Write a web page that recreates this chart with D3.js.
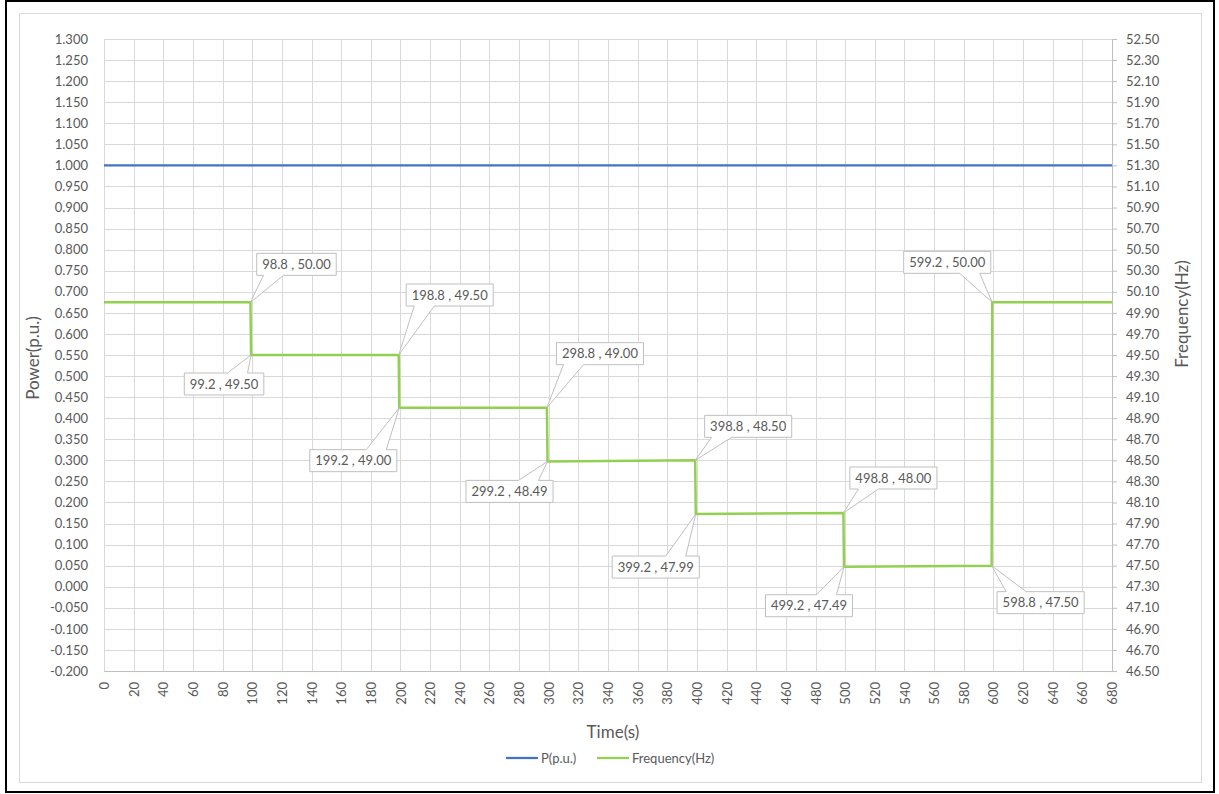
<!DOCTYPE html>
<html>
<head>
<meta charset="utf-8">
<script src="https://cdn.jsdelivr.net/npm/d3@7"></script>
<style>
  html, body { margin: 0; padding: 0; background: #fff; }
  svg { display: block; font-family: Lato, "Open Sans", "Liberation Sans", sans-serif; }
</style>
</head>
<body>
<svg id="chart" width="1219" height="794"></svg>
<script>
// ---------------- DATA ----------------
const timeTicks = d3.range(0, 681, 20);              // 0,20,...,680
const powerTickLabels = ["-0.200","-0.150","-0.100","-0.050","0.000","0.050","0.100","0.150","0.200","0.250","0.300","0.350","0.400","0.450","0.500","0.550","0.600","0.650","0.700","0.750","0.800","0.850","0.900","0.950","1.000","1.050","1.100","1.150","1.200","1.250","1.300"];
const freqTickLabels = ["46.50","46.70","46.90","47.10","47.30","47.50","47.70","47.90","48.10","48.30","48.50","48.70","48.90","49.10","49.30","49.50","49.70","49.90","50.10","50.30","50.50","50.70","50.90","51.10","51.30","51.50","51.70","51.90","52.10","52.30","52.50"];

const powerTime  = [0, 680];
const powerValue = [1.000, 1.000];

const freqTime  = [0,     98.8,  99.2,  198.8, 199.2, 298.8, 299.2, 398.8, 399.2, 498.8, 499.2, 598.8, 599.2, 680];
const freqValue = [50.00, 50.00, 49.50, 49.50, 49.00, 49.00, 48.49, 48.50, 47.99, 48.00, 47.49, 47.50, 50.00, 50.00];

// labelled points (time, frequency)
const calloutTime  = [98.8, 99.2, 198.8, 199.2, 298.8, 299.2, 398.8, 399.2, 498.8, 499.2, 599.2, 598.8];
const calloutFreq  = [50.00, 49.50, 49.50, 49.00, 49.00, 48.49, 48.50, 47.99, 48.00, 47.49, 50.00, 47.50];
// label box offsets (layout only)
const calloutDx = [46, -27, 51, -46, 53, -38, 53, -40, 50, -35, -45, 49];
const calloutDy = [-38, 29, -60, 53, -54, 30, -34, 53, -35, 39, -40, 37];

const seriesNames = ["P(p.u.)", "Frequency(Hz)"];
const seriesColors = ["#4472c4", "#92d050"];

// ---------------- LAYOUT ----------------
const svg = d3.select("#chart");
const L = 104, R = 1112, T = 39, B = 671;
const textColor = "#595959", gridColor = "#d9d9d9";
const FONT = "Lato, 'Open Sans', sans-serif";

const x = d3.scaleLinear().domain([0, 680]).range([L, R]);
const yL = d3.scaleLinear().domain([-0.2, 1.3]).range([B, T]);
const yR = d3.scaleLinear().domain([46.5, 52.5]).range([B, T]);

// outer frame + chart area border
svg.append("rect").attr("x", 6).attr("y", 1).attr("width", 1208).attr("height", 791)
  .attr("fill", "none").attr("stroke", "#000").attr("stroke-width", 2);
svg.append("rect").attr("x", 19.5).attr("y", 13.5).attr("width", 1182).attr("height", 769)
  .attr("fill", "#fff").attr("stroke", gridColor).attr("stroke-width", 1);

const powerTicks = powerTickLabels.map(Number);
const freqTicks = freqTickLabels.map(Number);

// gridlines
const grid = svg.append("g");
grid.selectAll("line.h").data(powerTicks).join("line")
  .attr("x1", L).attr("x2", R)
  .attr("y1", d => Math.round(yL(d)) + 0.5).attr("y2", d => Math.round(yL(d)) + 0.5)
  .attr("stroke", gridColor).attr("stroke-width", 1);
grid.selectAll("line.v").data(timeTicks).join("line")
  .attr("y1", T).attr("y2", B)
  .attr("x1", d => Math.round(x(d)) + 0.5).attr("x2", d => Math.round(x(d)) + 0.5)
  .attr("stroke", gridColor).attr("stroke-width", 1);

// left axis
const axL = svg.append("g").attr("transform", `translate(${L},0)`)
  .call(d3.axisLeft(yL).tickValues(powerTicks).tickSize(0).tickPadding(16)
    .tickFormat((d, i) => powerTickLabels[i]));
axL.select(".domain").attr("stroke", gridColor);
axL.selectAll("text").attr("fill", textColor).style("font-size", "13px").style("font-family", FONT);

// right axis
const axR = svg.append("g").attr("transform", `translate(${R},0)`)
  .call(d3.axisRight(yR).tickValues(freqTicks).tickSize(5).tickPadding(9)
    .tickFormat((d, i) => freqTickLabels[i]));
axR.select(".domain").attr("stroke", "#bfbfbf");
axR.selectAll("line").attr("stroke", "#bfbfbf");
axR.selectAll("text").attr("fill", textColor).style("font-size", "13px").style("font-family", FONT);

// bottom axis
const axB = svg.append("g").attr("transform", `translate(0,${B})`)
  .call(d3.axisBottom(x).tickValues(timeTicks).tickSize(0).tickFormat(d3.format("d")));
axB.select(".domain").attr("stroke", "#bfbfbf");
axB.selectAll("text")
  .attr("fill", textColor).style("font-size", "13px").style("font-family", FONT)
  .attr("transform", "rotate(-90)")
  .attr("x", -11).attr("y", 0).attr("dy", "0.35em")
  .attr("text-anchor", "end");

// axis titles
svg.append("text").attr("x", 613).attr("y", 738).attr("text-anchor", "middle")
  .attr("fill", textColor).style("font-size", "17px").text("Time(s)");
svg.append("text").attr("transform", "translate(39,358) rotate(-90)").attr("text-anchor", "middle")
  .attr("fill", textColor).style("font-size", "17px").text("Power(p.u.)");
svg.append("text").attr("transform", "translate(1188,314) rotate(-90)").attr("text-anchor", "middle")
  .attr("fill", textColor).style("font-size", "17px").text("Frequency(Hz)");

// series
const powerLine = d3.line().x((d, i) => x(powerTime[i])).y(d => yL(d));
svg.append("path").datum(powerValue).attr("d", powerLine)
  .attr("fill", "none").attr("stroke", seriesColors[0]).attr("stroke-width", 2.25);

const freqLine = d3.line().x((d, i) => x(freqTime[i])).y(d => yR(d));
svg.append("path").datum(freqValue).attr("d", freqLine)
  .attr("fill", "none").attr("stroke", seriesColors[1]).attr("stroke-width", 2.5)
  .attr("stroke-linejoin", "miter");

// callouts
const cg = svg.append("g");
calloutTime.forEach((t, i) => {
  const f = calloutFreq[i];
  const px = x(t), py = yR(f);
  const label = `${t.toFixed(1)} , ${f.toFixed(2)}`;
  const g = cg.append("g");
  const txt = g.append("text").attr("text-anchor", "middle").attr("dy", "0.35em")
    .attr("fill", textColor).style("font-size", "13px").text(label);
  const cx = px + calloutDx[i], cy = py + calloutDy[i];
  txt.attr("x", cx).attr("y", cy);
  const w = txt.node().getComputedTextLength() + 11, h = 22;
  const x0 = cx - w / 2, x1 = cx + w / 2, y0 = cy - h / 2, y1 = cy + h / 2;
  let mid = cx + (px - cx) * 0.5;
  mid = Math.max(x0 + 11, Math.min(x1 - 11, mid));
  const b1 = mid - 10, b2 = mid + 10;
  let d;
  if (py > cy) { // point below box: wedge on bottom edge
    d = `M${x0},${y0}H${x1}V${y1}H${b2}L${px},${py}L${b1},${y1}H${x0}Z`;
  } else {       // point above box: wedge on top edge
    d = `M${x0},${y0}H${b1}L${px},${py}L${b2},${y0}H${x1}V${y1}H${x0}Z`;
  }
  g.insert("path", "text").attr("d", d).attr("fill", "#fff")
    .attr("stroke", "#bfbfbf").attr("stroke-width", 1);
});

// legend
const lg = svg.append("g");
const legendX = [506, 597];
seriesNames.forEach((name, i) => {
  lg.append("line").attr("x1", legendX[i]).attr("x2", legendX[i] + 32)
    .attr("y1", 758).attr("y2", 758).attr("stroke", seriesColors[i]).attr("stroke-width", 2.25);
  lg.append("text").attr("x", legendX[i] + 35).attr("y", 758).attr("dy", "0.35em")
    .attr("fill", textColor).style("font-size", "13px").text(name);
});
</script>
</body>
</html>
